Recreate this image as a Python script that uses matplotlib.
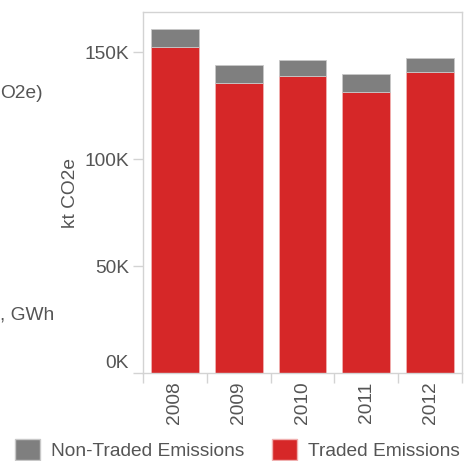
import matplotlib
matplotlib.use("Agg")
import matplotlib.pyplot as plt
import numpy as np
from matplotlib.patches import Patch
from matplotlib.ticker import FuncFormatter, FixedLocator
from matplotlib.transforms import ScaledTranslation

plt.rcParams["font.family"] = ["Liberation Sans", "DejaVu Sans"]

YEARS = ["2008", "2009", "2010", "2011", "2012"]
TRADED = [152300, 135500, 138800, 131300, 140700]
NON_TRADED = [8400, 8400, 7500, 8400, 6500]
Y_TICKS = [0, 50000, 100000, 150000]

RED = "#D62728"
GRAY = "#7F7F7F"
TXT = "#555555"
FRAME = "#D3D3D3"
FS = 13.8


def main():
    fig = plt.figure(figsize=(4.70, 4.61), dpi=100)
    ax = fig.add_axes([143 / 470, 88 / 461, 319 / 470, 361 / 461])

    x = np.arange(len(YEARS))
    ax.bar(x, TRADED, width=0.75, color=RED, edgecolor="#F0B0B0", lw=0.6)
    ax.bar(x, NON_TRADED, bottom=TRADED, width=0.75, color=GRAY,
           edgecolor="#C8C8C8", lw=0.6)

    ax.set_xlim(-0.5, len(YEARS) - 0.5)
    ax.set_ylim(0, 168700)
    ax.set_yticks(Y_TICKS)
    ax.yaxis.set_major_formatter(FuncFormatter(lambda v, p: f"{v / 1000:.0f}K"))
    ax.set_xticks(x)
    ax.set_xticklabels(YEARS, rotation=90)
    ax.xaxis.set_minor_locator(FixedLocator(np.arange(-0.5, len(YEARS), 1.0)))
    ax.tick_params(axis="x", which="major", length=0, pad=6, labelsize=FS, labelcolor=TXT)
    ax.tick_params(axis="x", which="minor", length=7, color=FRAME, width=1)
    ax.tick_params(axis="y", length=7, color=FRAME, width=1, pad=3,
                   labelsize=FS, labelcolor=TXT)
    for sp in ax.spines.values():
        sp.set_color(FRAME)
        sp.set_linewidth(1)
    ax.set_ylabel("kt CO2e", fontsize=FS, color=TXT, labelpad=4)

    # lift the 0K label off the bottom edge, as in the original
    fig.canvas.draw()
    lab0 = ax.get_yticklabels()[0]
    lab0.set_transform(lab0.get_transform() + ScaledTranslation(0, 8 / 72, fig.dpi_scale_trans))

    # cut-off labels from the neighbouring chart
    fig.text(0, 1 - 93 / 461, "O2e)", fontsize=FS, color=TXT,
             ha="left", va="center")
    fig.text(0, 1 - 315 / 461, ", GWh", fontsize=FS, color=TXT,
             ha="left", va="center")

    handles = [Patch(facecolor=GRAY, edgecolor="#C8C8C8", label="Non-Traded Emissions"),
               Patch(facecolor=RED, edgecolor="#F0B0B0", label="Traded Emissions")]
    leg = fig.legend(handles=handles, loc="lower left", bbox_to_anchor=(14 / 470, 0),
                     ncol=2, frameon=False, fontsize=FS, handlelength=1.3,
                     handleheight=1.3, handletextpad=0.6, columnspacing=1.4,
                     borderpad=0.05, borderaxespad=0)
    for t in leg.get_texts():
        t.set_color(TXT)

    fig.savefig("out.png", dpi=100)
    plt.close(fig)


if __name__ == "__main__":
    main()
